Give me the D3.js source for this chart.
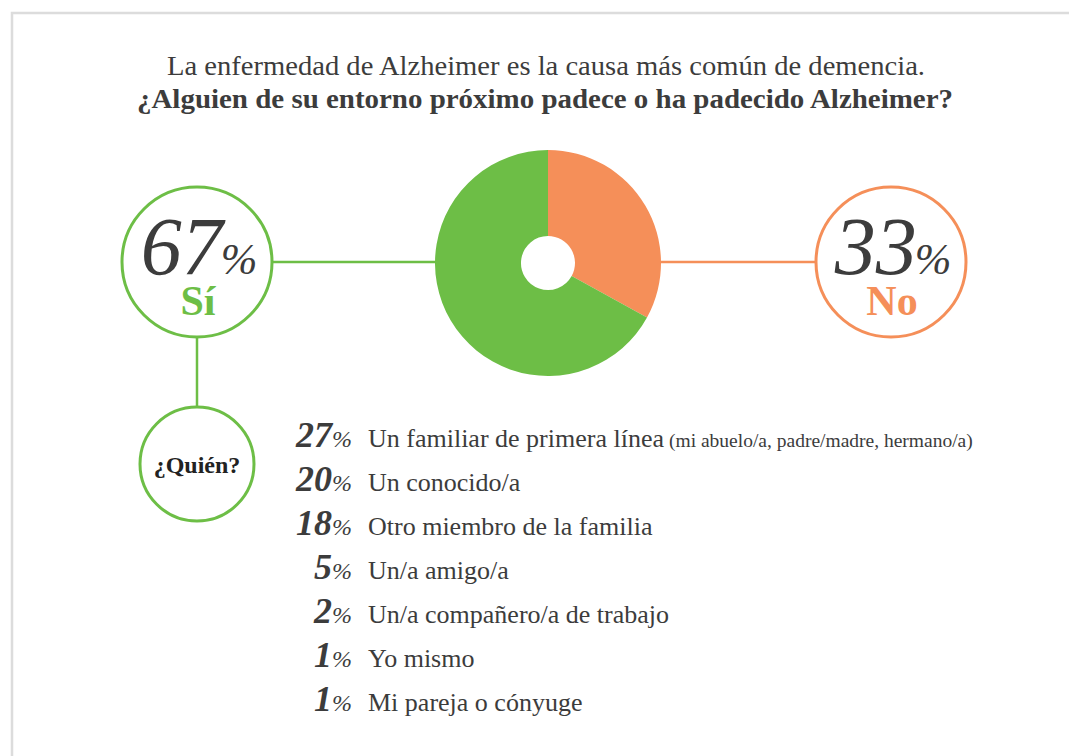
<!DOCTYPE html>
<html>
<head>
<meta charset="utf-8">
<script src="https://cdn.jsdelivr.net/npm/d3@7"></script>
<style>
  html, body { margin: 0; padding: 0; background: #fff; }
  svg { display: block; }
</style>
</head>
<body>
<svg id="chart" width="1069" height="756"></svg>
<script>
// ---- data ----
const titleLines = [
  "La enfermedad de Alzheimer es la causa más común de demencia.",
  "¿Alguien de su entorno próximo padece o ha padecido Alzheimer?"
];
const answers = ["No", "Sí"];
const answerShares = [33, 67];
const whoQuestion = "¿Quién?";
const whoValues = [27, 20, 18, 5, 2, 1, 1];
const whoLabels = [
  "Un familiar de primera línea",
  "Un conocido/a",
  "Otro miembro de la familia",
  "Un/a amigo/a",
  "Un/a compañero/a de trabajo",
  "Yo mismo",
  "Mi pareja o cónyuge"
];
const whoNotes = ["(mi abuelo/a, padre/madre, hermano/a)", "", "", "", "", "", ""];

// ---- styles ----
const GREEN = "#6dbe46", ORANGE = "#f58f59", DARK = "#3c3c3c";
const SERIF = "'Liberation Serif', 'Times New Roman', serif";
const colorOf = d3.scaleOrdinal().domain(answers).range([ORANGE, GREEN]);

const svg = d3.select("#chart");

// frame
svg.append("rect").attr("x", 12).attr("y", 13).attr("width", 1100).attr("height", 800)
  .attr("fill", "none").attr("stroke", "#dcdcdc").attr("stroke-width", 2.5);

// title
svg.append("text").attr("x", 546).attr("y", 75).attr("text-anchor", "middle")
  .attr("font-family", SERIF).attr("font-size", 27).attr("fill", DARK)
  .attr("textLength", 758).attr("lengthAdjust", "spacingAndGlyphs")
  .text(titleLines[0]);
svg.append("text").attr("x", 545).attr("y", 108).attr("text-anchor", "middle")
  .attr("font-family", SERIF).attr("font-size", 27).attr("font-weight", "bold").attr("fill", DARK)
  .attr("textLength", 816).attr("lengthAdjust", "spacingAndGlyphs")
  .text(titleLines[1]);

// geometry
const cx = 548, cy = 263, rOut = 113, rIn = 27;
const leftC = {x: 197, y: 262, r: 75};
const rightC = {x: 891, y: 262, r: 75};
const whoC = {x: 197, y: 464, r: 57};

// connectors
svg.append("line").attr("x1", leftC.x + leftC.r).attr("x2", cx - rOut + 2)
  .attr("y1", leftC.y).attr("y2", leftC.y).attr("stroke", GREEN).attr("stroke-width", 2.5);
svg.append("line").attr("x1", cx + rOut - 2).attr("x2", rightC.x - rightC.r)
  .attr("y1", rightC.y).attr("y2", rightC.y).attr("stroke", ORANGE).attr("stroke-width", 2.5);
svg.append("line").attr("x1", leftC.x).attr("x2", leftC.x)
  .attr("y1", leftC.y + leftC.r).attr("y2", whoC.y - whoC.r).attr("stroke", GREEN).attr("stroke-width", 2.5);

// donut
const pie = d3.pie().sort(null).value(d => d.v);
const arc = d3.arc().innerRadius(rIn).outerRadius(rOut);
const pieData = answers.map((a, i) => ({k: a, v: answerShares[i]}));
svg.append("g").attr("transform", `translate(${cx},${cy})`)
  .selectAll("path").data(pie(pieData)).join("path")
  .attr("d", arc).attr("fill", d => colorOf(d.data.k));

// big circles
function bigCircle(c, col, value, label) {
  const g = svg.append("g");
  g.append("circle").attr("cx", c.x).attr("cy", c.y).attr("r", c.r)
    .attr("fill", "#fff").attr("stroke", col).attr("stroke-width", 3);
  const t = g.append("text").attr("font-family", SERIF).attr("fill", DARK);
  t.append("tspan").attr("x", c.x + 2).attr("y", c.y + 12).attr("text-anchor", "middle")
    .attr("font-style", "italic").attr("font-size", 82).text(value);
  t.append("tspan").attr("font-style", "italic").attr("font-size", 44).attr("dx", -2).text("%");
  t.append("tspan").attr("x", c.x + 1).attr("y", c.y + 53).attr("text-anchor", "middle")
    .attr("font-weight", "bold").attr("font-size", 42).attr("fill", col).text(label);
}
bigCircle(leftC, GREEN, answerShares[1], answers[1]);
bigCircle(rightC, ORANGE, answerShares[0], answers[0]);

// quien circle
svg.append("circle").attr("cx", whoC.x).attr("cy", whoC.y).attr("r", whoC.r)
  .attr("fill", "#fff").attr("stroke", GREEN).attr("stroke-width", 3);
svg.append("text").attr("x", whoC.x).attr("y", whoC.y + 9).attr("text-anchor", "middle")
  .attr("font-family", SERIF).attr("font-weight", "bold").attr("font-size", 24)
  .attr("fill", "#222").text(whoQuestion);

// list
const y = d3.scalePoint().domain(d3.range(whoValues.length)).range([447, 711]);
const rows = svg.append("g").selectAll("g").data(whoValues).join("g")
  .attr("transform", (d, i) => `translate(0,${y(i)})`);
const pct = rows.append("text").attr("x", 352).attr("text-anchor", "end")
  .attr("font-family", SERIF).attr("fill", DARK).attr("font-style", "italic");
pct.append("tspan").attr("font-weight", "bold").attr("font-size", 36).text(d => d);
pct.append("tspan").attr("font-size", 24).text("%");
const lab = rows.append("text").attr("x", 368)
  .attr("font-family", SERIF).attr("fill", DARK);
lab.append("tspan").attr("font-size", 26).text((d, i) => whoLabels[i]);
lab.append("tspan").attr("font-size", 19.5).attr("dx", 5).text((d, i) => whoNotes[i]);
</script>
</body>
</html>
